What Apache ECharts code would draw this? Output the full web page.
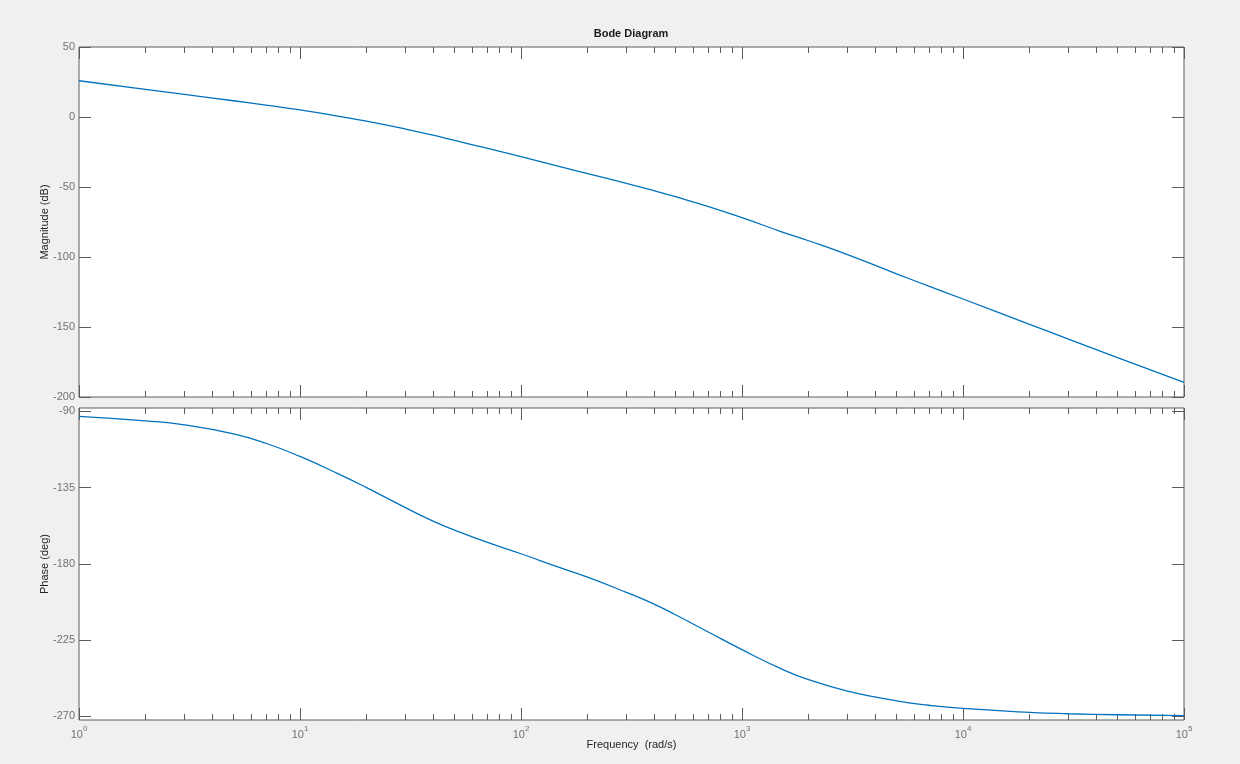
<!DOCTYPE html>
<html>
<head>
<meta charset="utf-8">
<title>Bode Diagram</title>
<script src="https://cdn.jsdelivr.net/npm/echarts@6/dist/echarts.min.js"></script>
<style>
  html, body { margin: 0; padding: 0; background: #f0f0f0; }
  #bode { width: 1240px; height: 764px; }
</style>
</head>
<body>
<div id="bode"></div>
<script>
// frequency samples (rad/s) and values
const freq = [1, 2, 3, 5, 7, 10, 15, 20, 30, 40, 50, 70, 100, 150, 200, 300, 400, 500, 700,
  1000, 1500, 2000, 3000, 5000, 7000, 10000, 20000, 30000, 50000, 100000];
const magnitude = [25.9, 19.8, 16.2, 11.6, 8.5, 5.1, 0.5, -3.0, -8.6, -13.0, -16.7, -22.3, -28.3,
  -35.4, -40.4, -47.4, -52.6, -56.9, -63.8, -71.9, -81.8, -88.4, -98.3, -112.0, -120.8, -130.0,
  -148.1, -158.6, -171.9, -189.6];
const phase = [-92.9, -95.6, -98.0, -103.3, -108.8, -116.6, -127.0, -135.0, -146.8, -154.8, -160.0,
  -167.2, -174.0, -182.2, -187.8, -196.8, -203.7, -210.0, -220.0, -230.6, -241.8, -248.3, -255.0,
  -260.8, -263.4, -265.3, -267.6, -268.4, -269.0, -269.5];
// tick labels
const decades = [0, 1, 2, 3, 4, 5]; // exponents of 10 on the frequency axis
const phaseTicks = [-270, -225, -180, -135, -90];

const AXIS_COLOR = '#5c5c5c';
const LABEL_COLOR = '#717171';
const FONT = '"Liberation Sans", Helvetica, Arial, sans-serif';

// minor decade ticks 2..9 (positions in log10 units)
const minorTicks = [];
for (let d = 0; d < decades.length - 1; d++) {
  for (let k = 2; k <= 9; k++) minorTicks.push(d + Math.log10(k));
}

function freqAxis(grid) {
  // hidden log axis, the curves are placed on it
  return {
    type: 'log', logBase: 10, gridIndex: grid, min: 1, max: 100000,
    axisLine: { show: false, onZero: false },
    axisTick: { show: false },
    axisLabel: { show: false },
    splitLine: { show: false }
  };
}

function decadeAxis(grid, pos, labels) {
  return {
    type: 'value', gridIndex: grid, position: pos, min: 0, max: 5, interval: 1,
    axisLine: { show: false, onZero: false },
    axisTick: { inside: true, length: 12, lineStyle: { color: AXIS_COLOR } },
    axisLabel: labels ? {
      margin: 5,
      formatter: v => '{b|10}{s|' + v + '}',
      rich: {
        b: { fontSize: 11, fontFamily: FONT, color: LABEL_COLOR, lineHeight: 15, verticalAlign: 'bottom' },
        s: { fontSize: 8, fontFamily: FONT, color: LABEL_COLOR, lineHeight: 6, verticalAlign: 'top' }
      }
    } : { show: false },
    name: labels ? 'Frequency  (rad/s)' : '',
    nameLocation: 'middle',
    nameGap: 19,
    nameMoveOverlap: false,
    nameTextStyle: { color: '#262626', fontSize: 11, fontFamily: FONT },
    splitLine: { show: false }
  };
}

function minorAxis(grid, pos) {
  return {
    type: 'value', gridIndex: grid, position: pos, min: 0, max: 5,
    axisLine: { show: false, onZero: false },
    axisTick: { inside: true, length: 6, customValues: minorTicks, lineStyle: { color: AXIS_COLOR } },
    axisLabel: { show: false },
    splitLine: { show: false }
  };
}

function leftAxis(grid, name, range) {
  return Object.assign({
    type: 'value', gridIndex: grid, position: 'left',
    name: name, nameLocation: 'middle', nameGap: 29, nameRotate: 90, nameMoveOverlap: false,
    nameTextStyle: { color: '#262626', fontSize: 11, fontFamily: FONT },
    axisLine: { show: false, onZero: false },
    axisTick: { inside: true, length: 12, lineStyle: { color: AXIS_COLOR } },
    axisLabel: { margin: 4, color: LABEL_COLOR, fontSize: 11, fontFamily: FONT },
    splitLine: { show: false }
  }, range);
}

function rightAxis(grid, range) {
  return Object.assign({
    type: 'value', gridIndex: grid, position: 'right',
    axisLine: { show: false, onZero: false },
    axisTick: { inside: true, length: 12, lineStyle: { color: AXIS_COLOR } },
    axisLabel: { show: false },
    splitLine: { show: false }
  }, range);
}

const magRange = { min: -200, max: 50, interval: 50 };
const phaseRange = {
  min: -272.1, max: -88,
  axisTick: { inside: true, length: 12, customValues: phaseTicks, lineStyle: { color: AXIS_COLOR } }
};

const chart = echarts.init(document.getElementById('bode'), null, { renderer: 'canvas' });

const gridStyle = {
  show: true, left: 79, width: 1105,
  backgroundColor: '#ffffff', borderColor: AXIS_COLOR, borderWidth: 1,
  outerBoundsMode: 'none', containLabel: false
};

const option = {
  backgroundColor: '#f0f0f0',
  animation: false,
  grid: [
    Object.assign({ top: 47, height: 350 }, gridStyle),
    Object.assign({ top: 408, height: 312 }, gridStyle)
  ],
  xAxis: [
    freqAxis(0), freqAxis(1),
    decadeAxis(0, 'bottom', false), decadeAxis(0, 'top', false),
    minorAxis(0, 'bottom'), minorAxis(0, 'top'),
    decadeAxis(1, 'bottom', true), decadeAxis(1, 'top', false),
    minorAxis(1, 'bottom'), minorAxis(1, 'top')
  ],
  yAxis: [
    leftAxis(0, 'Magnitude (dB)', magRange),
    rightAxis(0, magRange),
    leftAxis(1, 'Phase (deg)', Object.assign({}, phaseRange, {
      axisLabel: { margin: 4, color: LABEL_COLOR, fontSize: 11, fontFamily: FONT, customValues: phaseTicks }
    })),
    rightAxis(1, phaseRange)
  ],
  graphic: [{
    type: 'text', x: 631, y: 34,
    style: {
      text: 'Bode Diagram', fontSize: 11, fontWeight: 'bold', fontFamily: FONT, fill: '#1a1a1a',
      align: 'center', verticalAlign: 'middle'
    }
  }],
  series: [
    {
      name: 'Magnitude', type: 'line', xAxisIndex: 0, yAxisIndex: 0,
      data: freq.map((f, i) => [f, magnitude[i]]),
      showSymbol: false, smooth: 0.5,
      lineStyle: { color: '#0072bd', width: 1.3 }
    },
    {
      name: 'Phase', type: 'line', xAxisIndex: 1, yAxisIndex: 2,
      data: freq.map((f, i) => [f, phase[i]]),
      showSymbol: false, smooth: 0.5,
      lineStyle: { color: '#0072bd', width: 1.3 }
    }
  ]
};

chart.setOption(option);
</script>
</body>
</html>
